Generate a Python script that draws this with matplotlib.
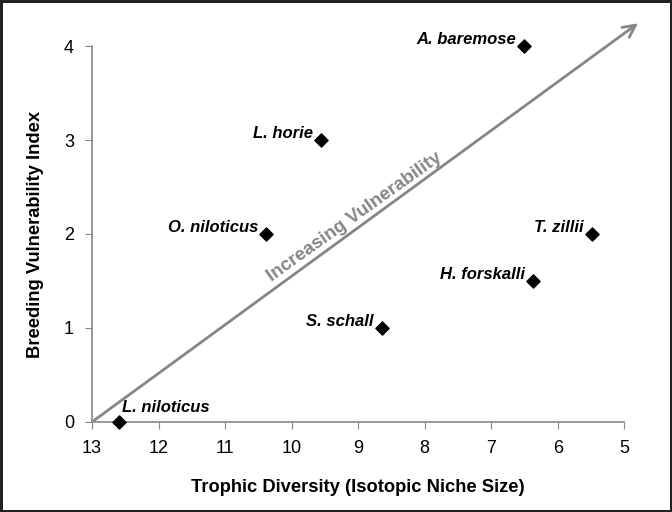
import numpy as np
import matplotlib
matplotlib.use("Agg")
import matplotlib.pyplot as plt

plt.rcParams['font.family'] = ['Liberation Sans', 'DejaVu Sans']

# species, trophic diversity (x), breeding vulnerability (y)
species = ['A. baremose', 'L. horie', 'O. niloticus', 'T. zillii',
           'H. forskalli', 'S. schall', 'L. niloticus']
niche_size = [6.50, 9.56, 10.38, 5.48, 6.37, 8.64, 12.59]
vuln_index = [4, 3, 2, 2, 1.5, 1, 0]

x_ticks = [13, 12, 11, 10, 9, 8, 7, 6, 5]
y_ticks = [0, 1, 2, 3, 4]

fig = plt.figure(figsize=(6.72, 5.12), dpi=100)
fig.patch.set_edgecolor('#222222')
fig.patch.set_linewidth(2.5)
ax = fig.add_axes([0.137, 0.176, 0.792, 0.734])

gray = '#868686'
ax.scatter(niche_size, vuln_index, marker='D', s=45, color='black', zorder=5, clip_on=False)

for name, x, y in zip(species, niche_size, vuln_index):
    if name == 'L. niloticus':
        ax.annotate(name, (x, y), xytext=(2, 10), textcoords='offset points',
                    ha='left', va='center', fontsize=12, fontweight='bold', style='italic')
    else:
        ax.annotate(name, (x, y), xytext=(-6, 4.5), textcoords='offset points',
                    ha='right', va='center', fontsize=12, fontweight='bold', style='italic')

# the arrow
ax.annotate('', xy=(4.76, 4.26), xytext=(13, 0), xycoords='data',
            arrowprops=dict(arrowstyle='->', color=gray, lw=2, mutation_scale=22),
            annotation_clip=False)
ax.text(9.06, 2.18, 'Increasing Vulnerability', rotation=35.5, rotation_mode='anchor',
        ha='center', va='center', color=gray, fontsize=13.5, fontweight='bold')

ax.set_xlim(13, 5)
ax.set_ylim(0, 4)
ax.set_xticks(x_ticks)
ax.set_yticks(y_ticks)
ax.tick_params(labelsize=13, color=gray, length=5)
ax.tick_params(axis='x', pad=8)
ax.tick_params(axis='y', pad=8)
for s in ['top', 'right']:
    ax.spines[s].set_visible(False)
for s in ['left', 'bottom']:
    ax.spines[s].set_color(gray)
    ax.spines[s].set_linewidth(1.2)

ax.set_xlabel('Trophic Diversity (Isotopic Niche Size)', fontsize=13.2, fontweight='bold', labelpad=16)
ax.set_ylabel('Breeding Vulnerability Index', fontsize=13.2, fontweight='bold', labelpad=14)

fig.savefig('out.png', dpi=100, edgecolor=fig.get_edgecolor())
